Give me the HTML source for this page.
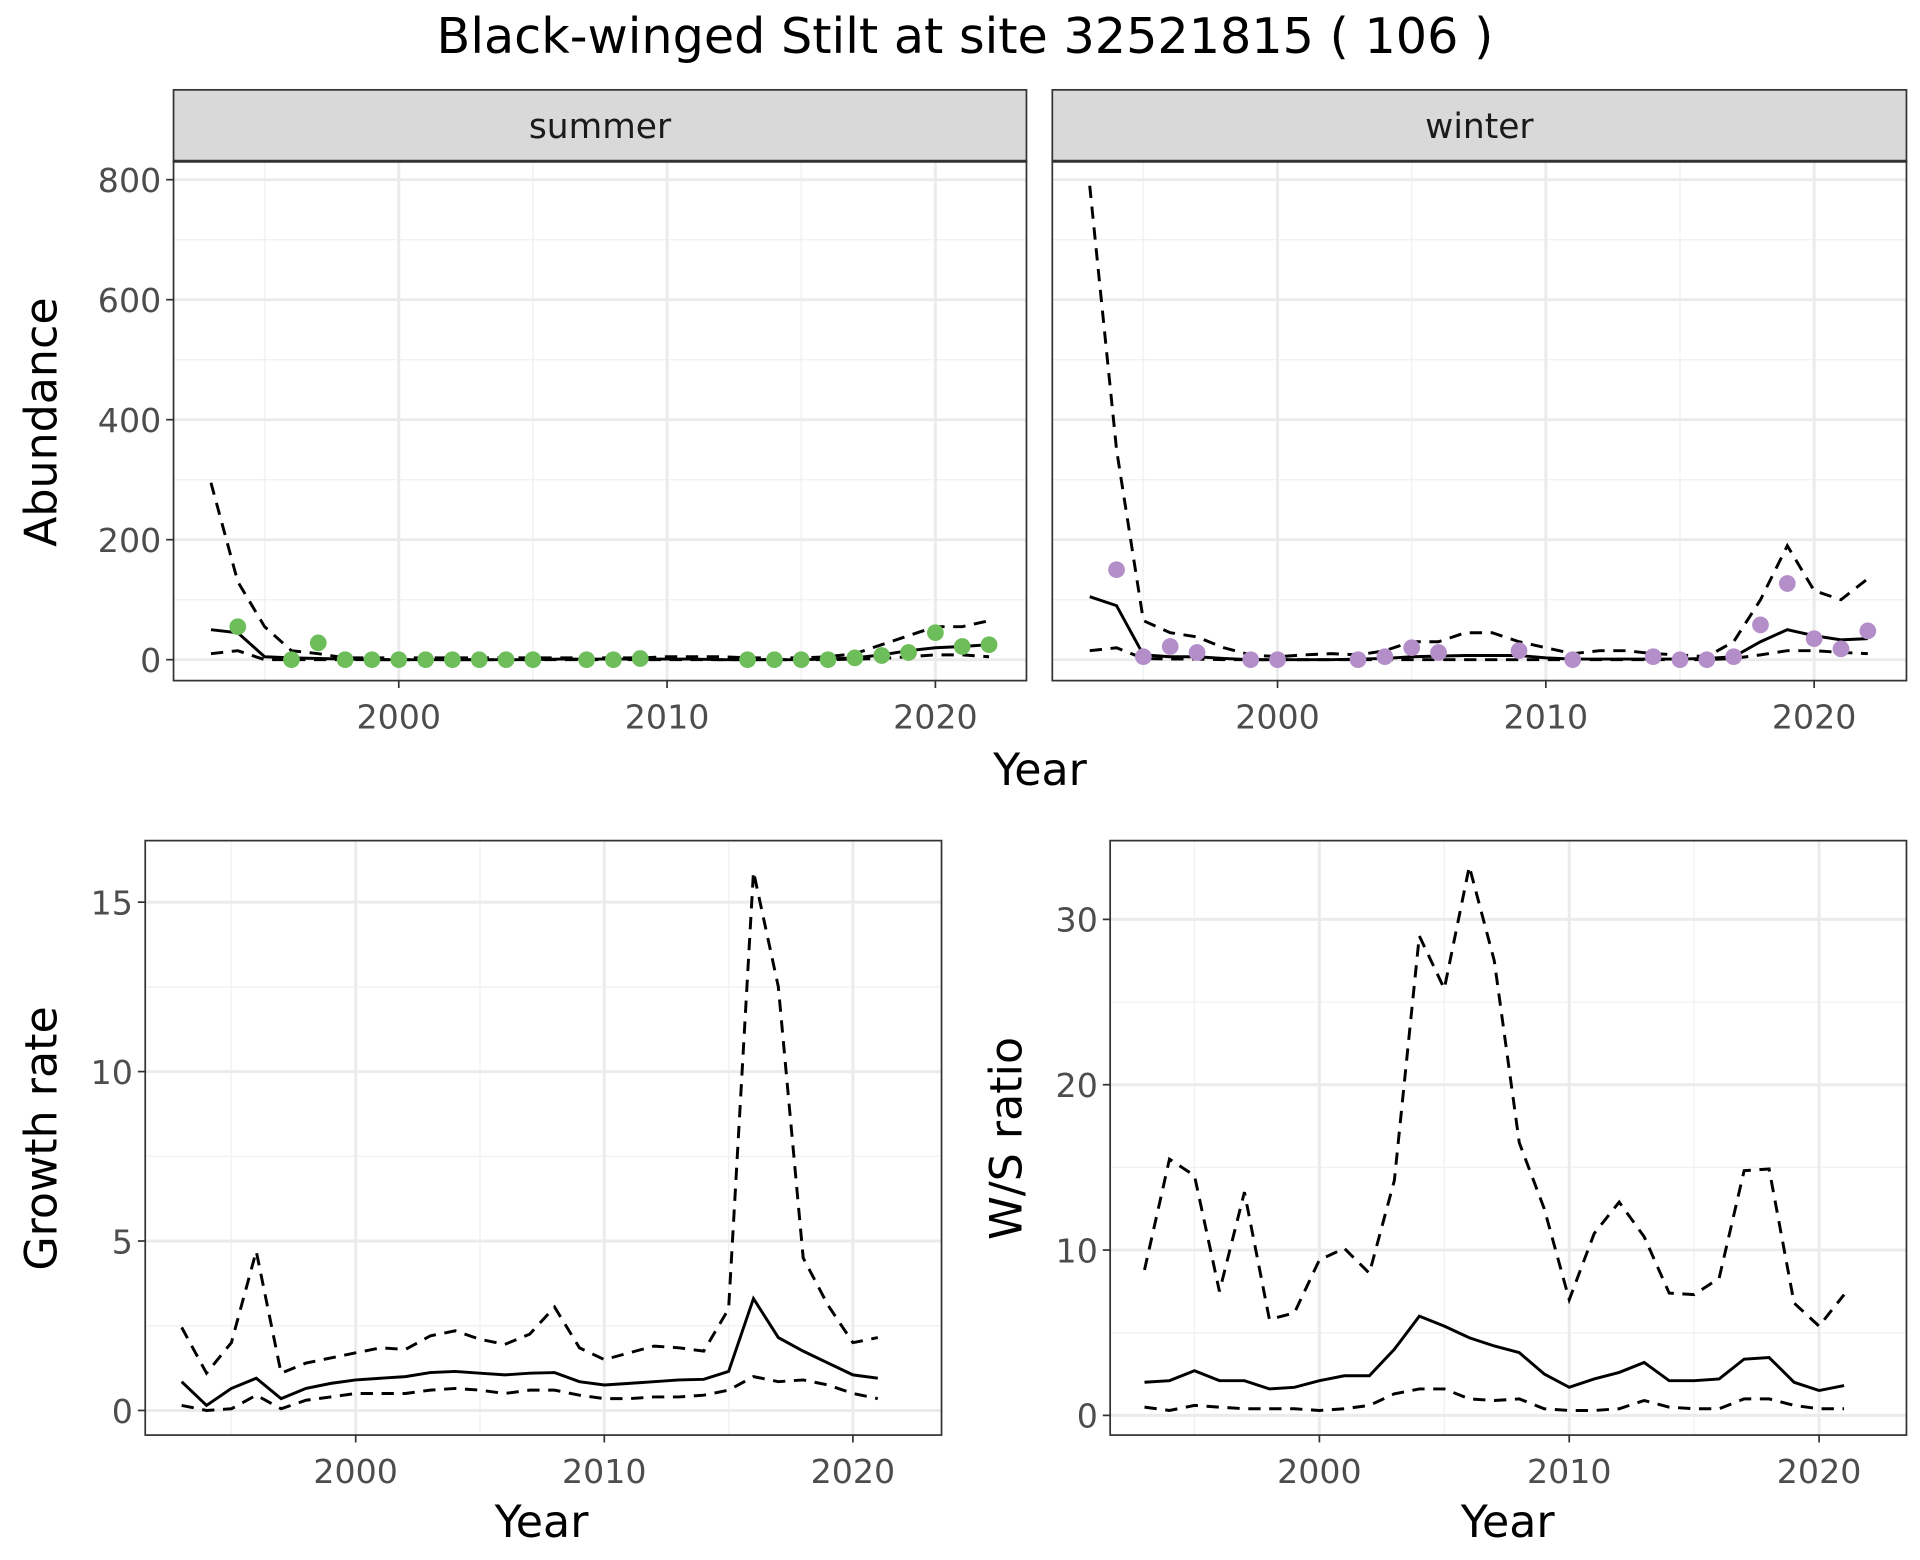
<!DOCTYPE html>
<html><head><meta charset="utf-8">
<style>html,body{margin:0;padding:0;background:#fff}svg{display:block}text{font-family:"DejaVu Sans","Liberation Sans",sans-serif}</style>
</head><body>
<svg id="chart" xmlns="http://www.w3.org/2000/svg" width="1920" height="1560" viewBox="0 0 1560 1267.5">
<rect width="1560" height="1267.5" fill="#fff"/>
<text x="784" y="43" font-size="40" text-anchor="middle" fill="#000">Black-winged Stilt at site 32521815 ( 106 )</text>
</svg>
<script>
const yearsA = [1993,1994,1995,1996,1997,1998,1999,2000,2001,2002,2003,2004,2005,2006,2007,2008,2009,2010,2011,2012,2013,2014,2015,2016,2017,2018,2019,2020,2021,2022];
const sumMid = [50,45,5,3,2,1,0,0,0,0,0,0,0,1,1,1,1,1,1,0,0,0,0,1,3,8,15,20,22,25];
const sumUp = [295,130,55,15,10,3,3,3,3,3,3,3,3,3,3,3,3,5,5,5,3,3,3,5,10,25,40,55,55,65];
const sumLo = [10,15,0,0,0,0,0,0,0,0,0,0,0,0,0,0,0,0,0,0,0,0,0,0,1,2,5,8,8,5];
const sumPtYears = [1994,1996,1997,1998,1999,2000,2001,2002,2003,2004,2005,2007,2008,2009,2013,2014,2015,2016,2017,2018,2019,2020,2021,2022];
const sumPts = [55,0,28,0,0,0,0,0,0,0,0,0,0,2,0,0,0,0,3,7,12,45,22,25];
const winMid = [105,90,8,5,5,2,0,0,0,0,1,2,5,6,7,7,7,3,1,1,1,1,1,2,5,30,50,40,33,35];
const winUp = [790,350,65,45,38,20,8,5,8,10,8,15,30,30,45,45,30,20,10,15,15,10,8,5,30,100,190,115,100,135];
const winLo = [15,20,2,1,1,0,0,0,0,0,0,0,0,0,0,0,0,0,0,0,0,0,0,0,2,8,15,15,12,10];
const winPtYears = [1994,1995,1996,1997,1999,2000,2003,2004,2005,2006,2009,2011,2014,2015,2016,2017,2018,2019,2020,2021,2022];
const winPts = [150,5,22,12,0,0,0,5,20,12,15,0,5,0,0,5,58,127,35,18,48];
const yearsB = [1993,1994,1995,1996,1997,1998,1999,2000,2001,2002,2003,2004,2005,2006,2007,2008,2009,2010,2011,2012,2013,2014,2015,2016,2017,2018,2019,2020,2021];
const grMid = [0.85,0.15,0.65,0.95,0.35,0.65,0.8,0.9,0.95,1.0,1.12,1.15,1.1,1.05,1.1,1.12,0.85,0.75,0.8,0.85,0.9,0.92,1.15,3.3,2.15,1.75,1.4,1.05,0.95];
const grUp = [2.45,1.1,2.0,4.7,1.1,1.4,1.55,1.7,1.85,1.8,2.2,2.35,2.1,1.95,2.25,3.05,1.85,1.5,1.7,1.9,1.85,1.75,3.0,15.9,12.5,4.5,3.1,2.0,2.15];
const grLo = [0.15,0.0,0.05,0.45,0.05,0.3,0.4,0.5,0.5,0.5,0.6,0.65,0.6,0.5,0.6,0.6,0.45,0.35,0.35,0.4,0.4,0.45,0.6,1.0,0.85,0.9,0.75,0.5,0.35];
const wsMid = [2.0,2.1,2.7,2.1,2.1,1.6,1.7,2.1,2.4,2.4,4.0,6.0,5.4,4.7,4.2,3.8,2.5,1.7,2.2,2.6,3.2,2.1,2.1,2.2,3.4,3.5,2.0,1.5,1.8];
const wsUp = [8.8,15.5,14.5,7.5,13.5,5.8,6.2,9.4,10.1,8.6,14.2,29.0,25.8,33.2,27.5,16.5,12.5,7.0,11.0,12.9,10.8,7.4,7.3,8.3,14.8,14.9,6.8,5.4,7.3];
const wsLo = [0.5,0.3,0.6,0.5,0.4,0.4,0.4,0.3,0.4,0.6,1.3,1.6,1.6,1.0,0.9,1.0,0.4,0.3,0.3,0.4,0.9,0.5,0.4,0.4,1.0,1.0,0.6,0.4,0.4];
const xTicks = [2000,2010,2020];
const abTicks = [0,200,400,600,800];
const grTicks = [0,5,10,15];
const wsTicks = [0,10,20,30];

const svg = document.getElementById('chart');
const NS = 'http://www.w3.org/2000/svg';
function mk(tag, attrs, parent){const e=document.createElementNS(NS,tag);for(const k in attrs)e.setAttribute(k,attrs[k]);(parent||svg).appendChild(e);return e;}

function panel(o){
  const g = mk('g',{});
  
  
  const sx = v => o.x0 + (v - o.xr[0])/(o.xr[1]-o.xr[0])*(o.x1-o.x0);
  const sy = v => o.y0 + (v - o.yr[0])/(o.yr[1]-o.yr[0])*(o.y1-o.y0);
  const minors = o.xTicks.map(v=>v-5).concat([o.xTicks[o.xTicks.length-1]+5]);
  minors.forEach(v=>{const x=sx(v); if(x>o.left && x<o.right) mk('line',{x1:x,x2:x,y1:o.top,y2:o.bot,stroke:'#f2f2f2','stroke-width':1.2},g);});
  for(let i=0;i<o.yTicks.length;i++){const d=o.yTicks[1]-o.yTicks[0];const v=o.yTicks[i]+d/2;const y=sy(v);if(y>o.top)mk('line',{x1:o.left,x2:o.right,y1:y,y2:y,stroke:'#f2f2f2','stroke-width':1.2},g);}
  o.xTicks.forEach(v=>mk('line',{x1:sx(v),x2:sx(v),y1:o.top,y2:o.bot,stroke:'#ebebeb','stroke-width':2.4},g));
  o.yTicks.forEach(v=>mk('line',{x1:o.left,x2:o.right,y1:sy(v),y2:sy(v),stroke:'#ebebeb','stroke-width':2.4},g));
  const path=(xs,ys,dash,nm)=>{const p=mk('path',{d:xs.map((x,i)=>(i?'L':'M')+sx(x).toFixed(1)+','+sy(ys[i]).toFixed(1)).join(''),fill:'none',stroke:'#000','stroke-width':2.4,'stroke-dasharray':dash||'none'},g);
    
    };
  path(o.xs,o.up,'10,7',o.name+'-upper-ci');
  path(o.xs,o.lo,'10,7',o.name+'-lower-ci');
  path(o.xs,o.mid,null,o.name+'-estimate');
  if(o.px){o.px.forEach((x,i)=>{const c=mk('circle',{cx:sx(x),cy:sy(o.py[i]),r:6.8,fill:o.col},g);
    
    });}
  mk('rect',{x:o.left,y:o.top,width:o.right-o.left,height:o.bot-o.top,fill:'none',stroke:'#333','stroke-width':1.4},g);
  o.xTicks.forEach(v=>{mk('line',{x1:sx(v),x2:sx(v),y1:o.bot,y2:o.bot+6,stroke:'#333','stroke-width':1.4},g);
    const t=mk('text',{x:sx(v),y:o.bot+39,'font-size':27,'text-anchor':'middle',fill:'#4d4d4d'},g);t.textContent=v;
    
    });
  if(o.yLabels){o.yTicks.forEach(v=>{mk('line',{x1:o.left-6,x2:o.left,y1:sy(v),y2:sy(v),stroke:'#333','stroke-width':1.4},g);
    const t=mk('text',{x:o.left-10,y:sy(v)+10,'font-size':27,'text-anchor':'end',fill:'#4d4d4d'},g);t.textContent=v;
    
    });}
  if(o.strip){const r=mk('rect',{x:o.left,y:o.top-58,width:o.right-o.left,height:58,fill:'#d9d9d9',stroke:'#333','stroke-width':1.4},g);
    
    
    mk('line',{x1:o.left,x2:o.right,y1:o.top,y2:o.top,stroke:'#333','stroke-width':2.5},g);
    const t=mk('text',{x:(o.left+o.right)/2,y:o.top-19,'font-size':28,'text-anchor':'middle',fill:'#1a1a1a'},g);t.textContent=o.strip;
    
    }
}
function label(txt,x,y,rot,nm){const t=mk('text',{x:x,y:y,'font-size':36,'text-anchor':'middle',fill:'#000',transform:rot?`rotate(-90 ${x} ${y})`:''});t.textContent=txt;
  
  }

panel({name:'summer-panel',strip:'summer',left:141,right:834,top:131,bot:553,x0:324,x1:542,xr:[2000,2010],y0:536,y1:146,yr:[0,800],xTicks:xTicks,yTicks:abTicks,yLabels:true,xs:yearsA,mid:sumMid,up:sumUp,lo:sumLo,px:sumPtYears,py:sumPts,col:'#6dbe5a'});
panel({name:'winter-panel',strip:'winter',left:855,right:1549,top:131,bot:553,x0:1038,x1:1256,xr:[2000,2010],y0:536,y1:146,yr:[0,800],xTicks:xTicks,yTicks:abTicks,yLabels:false,xs:yearsA,mid:winMid,up:winUp,lo:winLo,px:winPtYears,py:winPts,col:'#b48ec8'});
panel({name:'growth-panel',left:118,right:765,top:683,bot:1166,x0:289,x1:491,xr:[2000,2010],y0:1146,y1:733,yr:[0,15],xTicks:xTicks,yTicks:grTicks,yLabels:true,xs:yearsB,mid:grMid,up:grUp,lo:grLo});
panel({name:'ws-ratio-panel',left:902,right:1549,top:683,bot:1166,x0:1072,x1:1275,xr:[2000,2010],y0:1150,y1:747,yr:[0,30],xTicks:xTicks,yTicks:wsTicks,yLabels:true,xs:yearsB,mid:wsMid,up:wsUp,lo:wsLo});
label('Abundance',46,343,true,'y-axis-title-abundance');
label('Year',845,638,false,'x-axis-title-top');
label('Growth rate',46,925,true,'y-axis-title-growth');
label('Year',440,1249,false,'x-axis-title-growth');
label('W/S ratio',830,925,true,'y-axis-title-ws');
label('Year',1225,1249,false,'x-axis-title-ws');
</script>
</body></html>
